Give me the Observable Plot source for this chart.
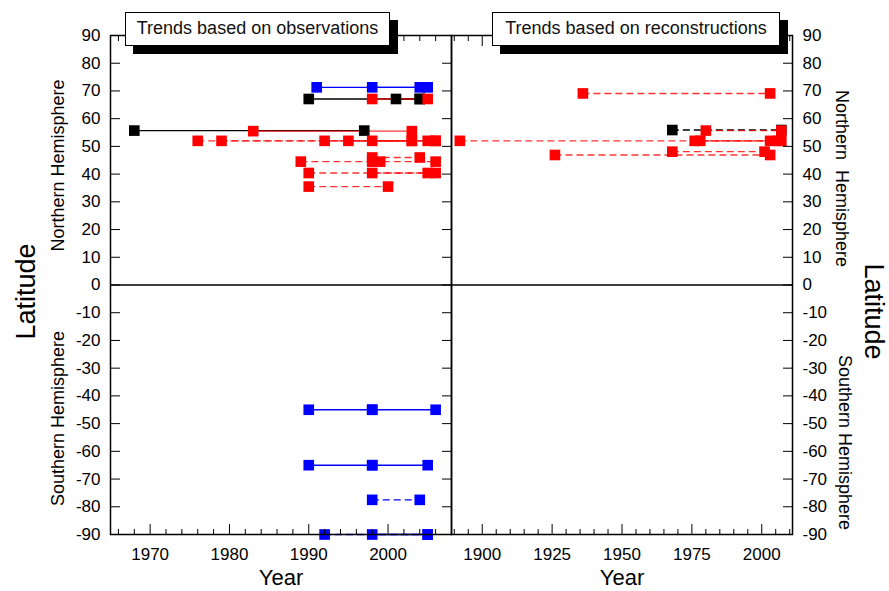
<!DOCTYPE html>
<html><head><meta charset="utf-8">
<script src="https://cdn.jsdelivr.net/npm/d3@7"></script>
<script src="https://cdn.jsdelivr.net/npm/@observablehq/plot@0.6"></script>
<style>
body{margin:0;background:#fff;font-family:Arial,"Liberation Sans",sans-serif}
#wrap{position:relative;width:889px;height:591px;overflow:hidden;background:#fff}
#wrap svg{position:absolute;top:0;overflow:visible}
.tbox{position:absolute;top:12px;height:34px;box-sizing:border-box;background:#fff;border:1px solid #000;box-shadow:8px 8px 0 #000;font-size:18px;text-align:center;line-height:31px;z-index:2;color:#111;white-space:nowrap}
</style></head><body><div id="wrap"></div>
<script>
// ---------- data ----------
// Left panel: trends based on observations (one row per trend segment)
const obsLat   = [71.3, 71.3, 67.1, 67.1, 67.1, 55.7, 55.5, 52, 52, 52, 52, 52, 46, 44.5, 44.5, 40.4, 40.4, 35.5, -45, -45, -65, -65, -77.5, -90, -90];
const obsStart = [1991, 1998, 1990, 2001, 1998, 1968, 1983, 1976, 1979, 1992, 1995, 1998, 1998, 1989, 1998, 1990, 1998, 1990, 1990, 1998, 1990, 1998, 1998, 1992, 1998];
const obsEnd   = [2005, 2004, 2004, 2004, 2005, 1997, 2003, 2006, 2005, 2003, 2006, 2003, 2004, 1999, 2006, 2006, 2005, 2000, 1998, 2006, 1998, 2005, 2004, 2005, 2005];
const obsColor = ["blue","blue","black","black","red","black","red","red","red","red","red","red","red","red","red","red","red","red","blue","blue","blue","blue","blue","blue","blue"];
const obsStyle = ["solid","solid","solid","solid","solid","solid","solid","dashed","dashed","dashed","dashed","solid","dashed","dashed","dashed","dashed","dashed","dashed","solid","solid","solid","solid","dashed","dashed","solid"];

// Right panel: trends based on reconstructions
const recLat   = [69.1, 55.7, 52, 52, 52, 48.1, 46.9, 55.9];
const recStart = [1936, 1980, 1892, 1976, 1978, 1968, 1926, 1968];
const recEnd   = [2003, 2007, 2006, 2003, 2007, 2001, 2003, 2007];
const recColor = ["red","red","red","red","red","red","red","black"];
const recStyle = ["dashed","dashed","dashed","dashed","dashed","dashed","dashed","dashed"];

// ticks
const latTicks  = [90, 80, 70, 60, 50, 40, 30, 20, 10, 0, -10, -20, -30, -40, -50, -60, -70, -80, -90];
const obsMajor  = [1970, 1980, 1990, 2000];
const obsMinor  = [1966, 1968, 1972, 1974, 1976, 1978, 1982, 1984, 1986, 1988, 1992, 1994, 1996, 1998, 2002, 2004, 2006];
const recMajor  = [1900, 1925, 1950, 1975, 2000];
const recMinor  = [1890, 1895, 1905, 1910, 1915, 1920, 1930, 1935, 1940, 1945, 1955, 1960, 1965, 1970, 1980, 1985, 1990, 1995, 2005, 2010];

const colorMap = {red: "#ff0000", blue: "#0000ff", black: "#000000"};

function rows(lat, start, end, color, style) {
  return lat.map((l, i) => ({lat: l, start: start[i], end: end[i], color: colorMap[color[i]], kind: color[i], style: style[i]}));
}
const obs = rows(obsLat, obsStart, obsEnd, obsColor, obsStyle);
const rec = rows(recLat, recStart, recEnd, recColor, recStyle);

function segMarks(data) {
  const order = ["black", "red", "blue"];
  const marks = [];
  for (const k of order) {
    const sub = data.filter(d => d.kind === k);
    const lineOpacity = k === "red" ? 0.8 : 1;
    marks.push(Plot.ruleY(sub.filter(d => d.style === "solid"), {y: "lat", x1: "start", x2: "end", stroke: "color", strokeWidth: 1.4, strokeOpacity: lineOpacity}));
    marks.push(Plot.ruleY(sub.filter(d => d.style === "dashed"), {y: "lat", x1: "start", x2: "end", stroke: "color", strokeWidth: 1.4, strokeOpacity: lineOpacity, strokeDasharray: "7,4"}));
  }
  for (const k of order) {
    const sub = data.filter(d => d.kind === k);
    marks.push(Plot.dot(sub, {x: "start", y: "lat", symbol: "square", r: 6, fill: "color", stroke: null}));
    marks.push(Plot.dot(sub, {x: "end", y: "lat", symbol: "square", r: 6, fill: "color", stroke: null}));
  }
  return marks;
}

const fmt = d => String(d);
const blank = () => "";
const common = {
  height: 591, marginTop: 35, marginBottom: 57,
  y: {domain: [-90, 90]},
  style: {fontFamily: "Arial, 'Liberation Sans', sans-serif", fontSize: "17px", background: "transparent", color: "#000", overflow: "visible"}
};
const lab = (s, o) => Plot.text([s], {text: d => d, textAnchor: "middle", lineAnchor: "middle", ...o});

const left = Plot.plot({
  ...common,
  width: 451, marginLeft: 110, marginRight: 0,
  x: {domain: [1965, 2008]},
  marks: [
    Plot.ruleY([0], {stroke: "#000", strokeWidth: 1.5}),
    ...segMarks(obs),
    Plot.axisY(latTicks, {anchor: "left", tickSize: -10, tickPadding: 20, tickFormat: fmt, label: null, fontSize: 17}),
    Plot.axisY(latTicks, {anchor: "right", tickSize: -10, tickFormat: blank, label: null}),
    Plot.axisX(obsMajor, {anchor: "bottom", tickSize: -10, tickPadding: 23, tickFormat: fmt, label: null, fontSize: 17}),
    Plot.axisX(obsMinor, {anchor: "bottom", tickSize: -5, tickFormat: blank, label: null}),
    Plot.axisX(obsMajor, {anchor: "top", tickSize: -10, tickFormat: blank, label: null}),
    Plot.axisX(obsMinor, {anchor: "top", tickSize: -5, tickFormat: blank, label: null}),
    Plot.frame({stroke: "#000", strokeWidth: 1.5}),
    lab("Latitude", {frameAnchor: "top-left", dx: -84, dy: 256, rotate: -90, fontSize: 27}),
    lab("Northern Hemisphere", {frameAnchor: "top-left", dx: -52, dy: 130, rotate: -90, fontSize: 18}),
    lab("Southern Hemisphere", {frameAnchor: "top-left", dx: -52, dy: 383, rotate: -90, fontSize: 18}),
    lab("Year", {frameAnchor: "bottom", dy: 43, fontSize: 22})
  ]
});

const right = Plot.plot({
  ...common,
  width: 438, marginLeft: 0, marginRight: 97,
  x: {domain: [1889, 2011]},
  marks: [
    Plot.ruleY([0], {stroke: "#000", strokeWidth: 1.5}),
    ...segMarks(rec),
    Plot.axisY(latTicks, {anchor: "right", tickSize: -10, tickPadding: 20, tickFormat: fmt, label: null, fontSize: 17}),
    Plot.axisX(recMajor, {anchor: "bottom", tickSize: -10, tickPadding: 23, tickFormat: fmt, label: null, fontSize: 17}),
    Plot.axisX(recMinor, {anchor: "bottom", tickSize: -5, tickFormat: blank, label: null}),
    Plot.axisX(recMajor, {anchor: "top", tickSize: -10, tickFormat: blank, label: null}),
    Plot.axisX(recMinor, {anchor: "top", tickSize: -5, tickFormat: blank, label: null}),
    Plot.frame({stroke: "#000", strokeWidth: 1.5}),
    lab("Northern  Hemisphere", {frameAnchor: "top-right", dx: 49, dy: 143, rotate: 90, fontSize: 18}),
    lab("Southern Hemisphere", {frameAnchor: "top-right", dx: 52, dy: 407, rotate: 90, fontSize: 18}),
    lab("Latitude", {frameAnchor: "top-right", dx: 81, dy: 276, rotate: 90, fontSize: 27}),
    lab("Year", {frameAnchor: "bottom", dy: 43, fontSize: 22})
  ]
});

const wrap = document.getElementById("wrap");
left.style.left = "0px";
right.style.left = "451px";
wrap.appendChild(left);
wrap.appendChild(right);

const titles = [
  {text: "Trends based on observations", left: 125, width: 265},
  {text: "Trends based on reconstructions", left: 492, width: 288}
];
for (const t of titles) {
  const b = document.createElement("div");
  b.className = "tbox";
  b.style.left = t.left + "px";
  b.style.width = t.width + "px";
  b.textContent = t.text;
  wrap.appendChild(b);
}
</script>
</body></html>
